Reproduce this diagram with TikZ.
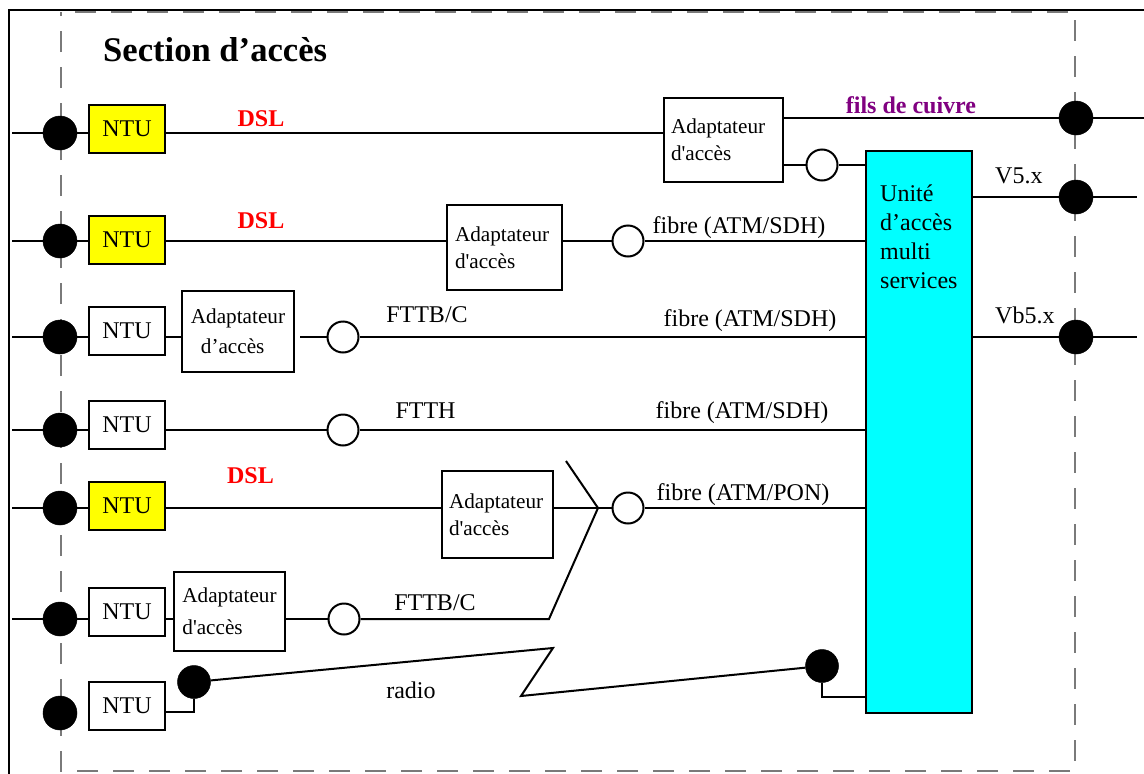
\documentclass[tikz,border=0pt]{standalone}
\usepackage{fontspec}
\setmainfont{Liberation Serif}
\definecolor{ntuyellow}{HTML}{FFFF00}
\definecolor{msaucyan}{HTML}{00FFFF}
\definecolor{dslred}{HTML}{FF0000}
\definecolor{copper}{HTML}{800080}
\definecolor{framegray}{HTML}{7A7A7A}
\begin{document}
\begin{tikzpicture}[x=1pt,y=-1pt,
  wire/.style={line width=2pt},
  box/.style={draw=black, line width=2pt, inner sep=0pt},
  ntubox/.style={box, minimum width=76pt, minimum height=48pt, font=\fontsize{24}{28}\selectfont},
  adbox/.style={box, align=left, font=\fontsize{21.2}{27}\selectfont},
  dot/.style={circle, fill=black, draw=black, line width=0.5pt, minimum size=34pt, inner sep=0pt},
  rdot/.style={circle, fill=black, draw=black, line width=0.5pt, minimum size=33pt, inner sep=0pt},
  ring/.style={circle, draw=black, fill=white, line width=2pt, minimum size=31pt, inner sep=0pt},
  lbl/.style={font=\fontsize{24}{28}\selectfont, inner sep=0pt, anchor=base},
  boldlbl/.style={font=\bfseries\fontsize{24}{28}\selectfont, inner sep=0pt, anchor=base},
]
\useasboundingbox (0,0) rectangle (1144,774);

% outer frame and dashed access-section boundary
\draw[line width=2pt] (9,774) -- (9,10) -- (1144,10);
\draw[framegray, line width=1.6pt, dash pattern=on 21pt off 15pt]
  (75,12) -- (1075,12) -- (1075,771) -- (61,771) -- (61,12);

\node[font=\bfseries\fontsize{34.6}{40}\selectfont, inner sep=0pt, anchor=base west] (title) at (103,61) {Section d’accès};

% multiservice access unit
\node[box, fill=msaucyan, minimum width=106pt, minimum height=562pt] (msau) at (919,432) {};
\node[lbl, anchor=base west] (m1) at (880,201) {Unité};
\node[lbl, anchor=base west] (m2) at (880,230) {d’accès};
\node[lbl, anchor=base west] (m3) at (880,259) {multi};
\node[lbl, anchor=base west] (m4) at (880,288) {services};

% left edge start points
\coordinate (l1) at (12,133);
\coordinate (l2) at (12,241);
\coordinate (l3) at (12,337);
\coordinate (l4) at (12,430);
\coordinate (l5) at (12,508);
\coordinate (l6) at (12,619);

% subscriber-side terminations
\node[dot] (d1) at (60,133) {};
\node[dot] (d2) at (60,241) {};
\node[dot] (d3) at (60,337) {};
\node[dot] (d4) at (60,430) {};
\node[dot] (d5) at (60,508) {};
\node[dot] (d6) at (60,619) {};
\node[dot] (d7) at (60,713) {};

\node[ntubox, fill=ntuyellow] (ntu1) at (127,128.5) {NTU};
\node[ntubox, fill=ntuyellow] (ntu2) at (127,240) {NTU};
\node[ntubox] (ntu3) at (127,330.5) {NTU};
\node[ntubox] (ntu4) at (127,424.5) {NTU};
\node[ntubox, fill=ntuyellow] (ntu5) at (127,506) {NTU};
\node[ntubox] (ntu6) at (127,611.5) {NTU};
\node[ntubox] (ntu7) at (127,706) {NTU};

% access adapters
\node[adbox, minimum width=119pt, minimum height=84pt, text width=105pt] (ad1) at (723.5,140) {Adaptateur\\d\textquotesingle accès};
\node[adbox, minimum width=115pt, minimum height=85pt, text width=99pt] (ad2) at (504.5,247.5) {Adaptateur\\d\textquotesingle accès};
\node[adbox, minimum width=112pt, minimum height=81pt, font=\fontsize{21.2}{30}\selectfont] (ad3) at (238,331.5) {Adaptateur\\\hspace*{10pt}d’accès};
\node[adbox, minimum width=111pt, minimum height=87pt, text width=97pt] (ad5) at (497.5,514.5) {Adaptateur\\d\textquotesingle accès};
\node[adbox, minimum width=111pt, minimum height=79pt, font=\fontsize{21.2}{32}\selectfont] (ad6) at (229.5,611.5) {Adaptateur\\d\textquotesingle accès};

% optical interfaces
\node[ring] (c1) at (822,165) {};
\node[ring] (c2) at (628,241) {};
\node[ring] (c3) at (343,337) {};
\node[ring] (c4) at (343,430) {};
\node[ring] (c5) at (628,508) {};
\node[ring] (c6) at (344,619) {};

% network-side terminations
\node[dot] (r1) at (1076,118) {};
\node[dot] (r2) at (1076,197) {};
\node[dot] (r3) at (1076,337) {};
\coordinate (e1) at (1144,118);
\coordinate (e2) at (1137,197);
\coordinate (e3) at (1137,337);

% radio link
\node[rdot] (rd1) at (194,682) {};
\node[rdot] (rd2) at (822,666) {};
\coordinate (k7) at (194,712);
\coordinate (z1) at (553,648);
\coordinate (z2) at (521,696);
\coordinate (k8) at (822,697);

% PON splitter
\coordinate (j) at (598,508);
\coordinate (sp) at (566,461);
\coordinate (b6) at (549,619);

% line 1
\draw[wire] (l1) -- (d1.west);
\draw[wire] (d1.east) -- (ntu1.west |- d1);
\draw[wire] (ntu1.east |- d1) -- (ad1.west |- d1);
\draw[wire] (ad1.east |- r1) -- (r1.west);
\draw[wire] (r1.east) -- (e1);
\draw[wire] (ad1.east |- c1) -- (c1.west);
\draw[wire] (c1.east) -- (c1.east -| msau.west);
% line 2
\draw[wire] (l2) -- (d2.west);
\draw[wire] (d2.east) -- (ntu2.west |- d2);
\draw[wire] (ntu2.east |- d2) -- (ad2.west |- d2);
\draw[wire] (ad2.east |- c2) -- (c2.west);
\draw[wire] (c2.east) -- (c2.east -| msau.west);
% line 3
\draw[wire] (l3) -- (d3.west);
\draw[wire] (d3.east) -- (ntu3.west |- d3);
\draw[wire] (ntu3.east |- d3) -- (ad3.west |- d3);
\draw[wire, shorten <=5pt] (ad3.east |- c3) -- (c3.west);
\draw[wire] (c3.east) -- (c3.east -| msau.west);
% line 4
\draw[wire] (l4) -- (d4.west);
\draw[wire] (d4.east) -- (ntu4.west |- d4);
\draw[wire] (ntu4.east |- d4) -- (c4.west);
\draw[wire] (c4.east) -- (c4.east -| msau.west);
% line 5
\draw[wire] (l5) -- (d5.west);
\draw[wire] (d5.east) -- (ntu5.west |- d5);
\draw[wire] (ntu5.east |- d5) -- (ad5.west |- d5);
\draw[wire] (ad5.east |- j) -- (j) -- (c5.west);
\draw[wire] (sp) -- (j);
\draw[wire] (c5.east) -- (c5.east -| msau.west);
% line 6
\draw[wire] (l6) -- (d6.west);
\draw[wire] (d6.east) -- (ntu6.west |- d6);
\draw[wire] (ntu6.east |- d6) -- (ad6.west |- d6);
\draw[wire] (ad6.east |- c6) -- (c6.west);
\draw[wire] (c6.east) -- (b6) -- (j);
% line 7 (radio)
\draw[wire] (ntu7.east |- k7) -- (k7) -- (rd1.south);
\draw[wire] (rd1) -- (z1) -- (z2) -- (rd2);
\draw[wire] (rd2.south) -- (k8) -- (k8 -| msau.west);
% V5 interfaces
\draw[wire] (msau.east |- r2) -- (r2.west);
\draw[wire] (r2.east) -- (e2);
\draw[wire] (msau.east |- r3) -- (r3.west);
\draw[wire] (r3.east) -- (e3);

% labels
\node[boldlbl, text=dslred] (t1) at (261,126) {DSL};
\node[boldlbl, text=dslred] (t2) at (261,228) {DSL};
\node[boldlbl, text=dslred] (t5) at (250.5,483) {DSL};
\node[boldlbl, text=copper] (tc) at (911,113) {fils de cuivre};
\node[lbl] (f2) at (739,233) {fibre (ATM/SDH)};
\node[lbl] (f3a) at (427,322) {FTTB/C};
\node[lbl] (f3b) at (750,326) {fibre (ATM/SDH)};
\node[lbl] (f4a) at (425.5,418) {FTTH};
\node[lbl] (f4b) at (742,418) {fibre (ATM/SDH)};
\node[lbl] (f5) at (743,500) {fibre (ATM/PON)};
\node[lbl] (f6) at (435,610) {FTTB/C};
\node[lbl] (tr) at (411,698) {radio};
\node[lbl, anchor=base west] (v5) at (995,183) {V5.x};
\node[lbl, anchor=base west] (vb5) at (995,323) {Vb5.x};
\end{tikzpicture}
\end{document}
